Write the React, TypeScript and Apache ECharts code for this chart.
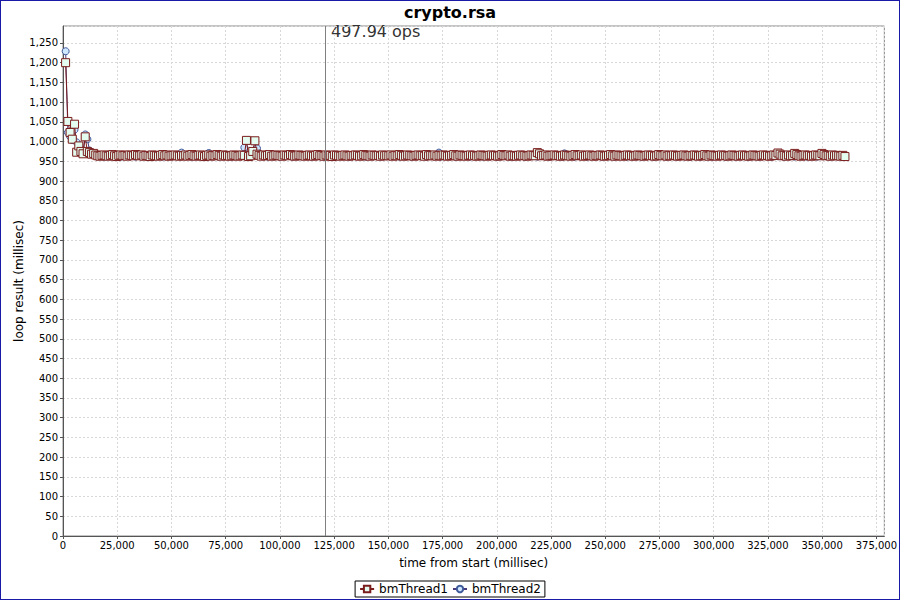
import React, { useEffect, useRef } from "react";
import * as echarts from "echarts";

const chartTitle = "crypto.rsa";
const seriesNames = ["bmThread1", "bmThread2"];
const markerTime = 120700;
const markerText = "497.94 ops";
const xAxisName = "time from start (millisec)";
const yAxisName = "loop result (millisec)";
const xMax = 378700;
const yMax = 1293;
const xInterval = 25000;
const yInterval = 50;

// loop results (millisec) for each iteration, thread 1
const thread1Values = [
  1200, 1051, 1023, 1006, 1044, 973, 989, 975, 969, 1012, 975, 972, 968, 970, 966,
  964, 963, 965, 966, 964, 963, 965, 967, 964, 962, 965, 966, 964, 965, 963, 966, 965, 964, 967, 965,
  964, 966, 963, 965, 964, 962, 966, 965, 964, 963, 965, 967, 964, 966, 963, 964, 965, 966, 964, 963,
  965, 964, 966, 963, 965, 967, 964, 963, 965, 966, 964, 962, 965, 966, 963, 965, 964, 967, 965, 963,
  966, 964, 965, 963, 964, 966, 965, 963, 964, 966, 965, 1003, 962, 964, 975, 1002, 968, 965, 963, 966,
  964, 965, 967, 963, 964, 966, 965, 964, 963, 966, 965, 964, 967, 965, 963, 964, 966, 965, 964, 963,
  965, 966, 964, 963, 965, 967, 964, 965, 963, 966, 964, 965, 962, 966, 965, 964, 963, 965, 966, 964,
  963, 965, 964, 966, 965, 963, 964, 967, 965, 964, 963, 966, 965, 964, 965, 963, 966, 964, 965, 964,
  966, 963, 965, 964, 967, 965, 963, 964, 966, 965, 964, 963, 965, 966, 964, 965, 963, 967, 964, 965,
  964, 966, 963, 965, 964, 966, 965, 963, 964, 965, 967, 964, 963, 966, 965, 964, 963, 965, 966, 964,
  965, 963, 964, 966, 965, 964, 963, 965, 966, 964, 965, 963, 964, 967, 965, 964, 966, 963, 965, 964,
  963, 965, 966, 964, 965, 963, 964, 966, 965, 964, 972, 969, 964, 965, 966, 963, 964, 965, 966, 964,
  965, 963, 964, 966, 965, 964, 963, 965, 967, 964, 965, 966, 963, 964, 965, 966, 964, 963, 965, 964,
  966, 965, 963, 964, 965, 967, 964, 963, 966, 965, 964, 963, 965, 966, 964, 965, 963, 964, 966, 965,
  964, 963, 965, 966, 964, 965, 963, 964, 967, 965, 964, 966, 963, 965, 964, 966, 965, 963, 964, 965,
  966, 964, 963, 965, 964, 966, 965, 963, 964, 965, 967, 964, 963, 966, 965, 964, 963, 965, 966, 964,
  965, 963, 964, 966, 965, 964, 963, 965, 966, 964, 965, 963, 964, 966, 965, 964, 963, 965, 966, 964,
  965, 963, 964, 966, 965, 971, 968, 964, 965, 963, 966, 964, 965, 970, 967, 964, 963, 965, 966, 964,
  965, 963, 964, 966, 965, 964, 970, 967, 964, 965, 963, 966, 964, 965, 964, 963, 965, 962,
];

// loop results (millisec) for each iteration, thread 2
const thread2Values = [
  1229, 1023, 1013, 1004, 1030, 998, 985, 978, 972, 1018, 1006, 977, 970, 968, 966,
  963, 965, 964, 962, 966, 964, 963, 965, 964, 966, 963, 962, 965, 964, 966, 963, 965, 964, 962, 965,
  964, 963, 966, 965, 962, 964, 965, 963, 966, 964, 965, 962, 963, 965, 966, 964, 963, 965, 964, 963,
  972, 964, 963, 965, 964, 962, 966, 965, 963, 964, 965, 963, 962, 971, 964, 965, 963, 964, 962, 965,
  964, 966, 963, 965, 962, 964, 963, 966, 965, 964, 985, 966, 964, 963, 965, 978, 983, 967, 964, 963,
  965, 962, 964, 966, 963, 965, 964, 962, 966, 965, 963, 964, 965, 962, 966, 964, 963, 965, 964, 966,
  963, 965, 962, 964, 966, 965, 963, 964, 962, 966, 964, 965, 963, 962, 965, 966, 964, 963, 965, 964,
  962, 966, 964, 963, 965, 964, 966, 963, 962, 965, 964, 966, 963, 965, 964, 962, 966, 965, 963, 964,
  965, 963, 966, 964, 962, 965, 964, 963, 966, 965, 962, 964, 963, 965, 966, 964, 963, 962, 965, 964,
  966, 963, 964, 972, 962, 966, 964, 963, 965, 964, 966, 962, 963, 965, 964, 966, 963, 965, 962, 964,
  965, 964, 963, 966, 962, 965, 964, 963, 966, 964, 965, 962, 964, 963, 966, 965, 964, 962, 963, 965,
  964, 966, 963, 965, 962, 964, 966, 965, 963, 964, 962, 965, 966, 964, 963, 965, 962, 964, 966, 963,
  965, 964, 962, 970, 966, 963, 964, 965, 962, 966, 964, 963, 965, 964, 962, 966, 963, 965, 964, 963,
  966, 962, 964, 965, 963, 966, 964, 962, 965, 963, 964, 966, 965, 962, 963, 964, 966, 965, 963, 964,
  962, 965, 966, 964, 963, 965, 962, 964, 966, 963, 965, 964, 962, 966, 964, 963, 965, 962, 964, 966,
  963, 965, 964, 962, 966, 965, 963, 964, 962, 965, 966, 964, 963, 965, 962, 964, 966, 963, 965, 964,
  962, 966, 964, 963, 965, 962, 964, 966, 963, 965, 964, 962, 966, 965, 963, 964, 962, 965, 966, 964,
  963, 965, 962, 964, 966, 963, 965, 964, 962, 966, 965, 963, 964, 962, 965, 966, 964, 963, 965, 962,
  964, 966, 963, 965, 962, 964, 966, 963, 965, 964, 962, 965, 963, 966, 964, 963, 965, 964,
];

// each point is plotted at the time its loop finished (running total of loop results)
function toTimedPoints(values: number[]): number[][] {
  let t = 0;
  return values.map((v) => {
    t += v;
    return [t, v];
  });
}

const fmt = (v: number) => Math.round(v).toLocaleString("en-US");
const FONT = "DejaVu Sans";

export default function App() {
  const ref = useRef<HTMLDivElement>(null);

  useEffect(() => {
    document.body.style.margin = "0";
    if (!ref.current) return;
    const chart = echarts.init(ref.current, null, { renderer: "svg" });
    chart.setOption({
      animation: false,
      backgroundColor: "#ffffff",
      title: {
        text: chartTitle,
        left: "center",
        top: -1,
        textStyle: { fontFamily: FONT, fontSize: 16, fontWeight: "bold", color: "#000" },
      },
      legend: {
        bottom: 3,
        left: "center",
        data: seriesNames,
        borderColor: "#000",
        borderWidth: 1,
        borderRadius: 0,
        padding: [2, 4],
        itemGap: 4,
        itemWidth: 14,
        itemHeight: 8,
        textStyle: { fontFamily: FONT, fontSize: 12, color: "#000" },
      },
      grid: {
        left: 63,
        right: 8,
        top: 26,
        bottom: 64,
        show: true,
        borderColor: "#888",
        borderWidth: 1,
        backgroundColor: "#fff",
      },
      xAxis: {
        type: "value",
        min: 0,
        max: xMax,
        interval: xInterval,
        name: xAxisName,
        nameLocation: "middle",
        nameGap: 21,
        nameTextStyle: { fontFamily: FONT, fontSize: 12, color: "#000" },
        axisLine: { show: true, lineStyle: { color: "#555", width: 1 } },
        axisTick: { show: true, length: 3, lineStyle: { color: "#555" } },
        axisLabel: {
          fontFamily: FONT,
          fontSize: 10,
          color: "#000",
          margin: 4,
          showMaxLabel: false,
          formatter: (v: number) => (v % xInterval === 0 ? fmt(v) : ""),
        },
        splitLine: { show: true, lineStyle: { color: "#d8d8d8", type: [2, 2], width: 1 } },
      },
      yAxis: {
        type: "value",
        min: 0,
        max: yMax,
        interval: yInterval,
        axisLine: { show: true, lineStyle: { color: "#555", width: 1 } },
        axisTick: { show: true, length: 3, lineStyle: { color: "#555" } },
        axisLabel: {
          fontFamily: FONT,
          fontSize: 10,
          color: "#000",
          margin: 5,
          showMaxLabel: false,
          formatter: (v: number) => (v % yInterval === 0 ? fmt(v) : ""),
        },
        splitLine: { show: true, lineStyle: { color: "#d8d8d8", type: [2, 2], width: 1 } },
      },
      series: [
        {
          name: seriesNames[0],
          type: "line",
          z: 3,
          data: toTimedPoints(thread1Values),
          symbol: "rect",
          symbolSize: 8,
          showAllSymbol: true,
          lineStyle: { color: "#7a1c1c", width: 1 },
          itemStyle: { color: "#e4fbef", borderColor: "#7a1c1c", borderWidth: 1 },
          markLine: {
            silent: true,
            symbol: "none",
            label: { show: false },
            lineStyle: { color: "#808080", type: "solid", width: 1 },
            data: [{ xAxis: markerTime }],
          },
        },
        {
          name: seriesNames[1],
          type: "line",
          z: 2,
          data: toTimedPoints(thread2Values),
          symbol: "circle",
          symbolSize: 7,
          showAllSymbol: true,
          lineStyle: { color: "#4a3a7a", width: 1 },
          itemStyle: { color: "#cfe6ff", borderColor: "#3f5a9a", borderWidth: 1 },
        },
      ],
      graphic: [
        {
          type: "text",
          left: 331,
          top: 23,
          style: {
            text: markerText,
            fontFamily: FONT,
            fontSize: 16,
            fill: "#333",
          },
        },
        {
          type: "text",
          x: 19,
          y: 281,
          rotation: Math.PI / 2,
          style: {
            text: yAxisName,
            fontFamily: FONT,
            fontSize: 12,
            fill: "#000",
            align: "center",
            verticalAlign: "middle",
          },
        },
      ],
    });
    return () => chart.dispose();
  }, []);

  return (
    <div style={{ position: "relative", width: 900, height: 600 }}>
      <div ref={ref} style={{ width: 900, height: 600 }} />
      <div
        style={{
          position: "absolute",
          left: 0,
          top: 0,
          width: 900,
          height: 600,
          boxSizing: "border-box",
          border: "1px solid #1a1aa6",
          pointerEvents: "none",
        }}
      />
    </div>
  );
}
